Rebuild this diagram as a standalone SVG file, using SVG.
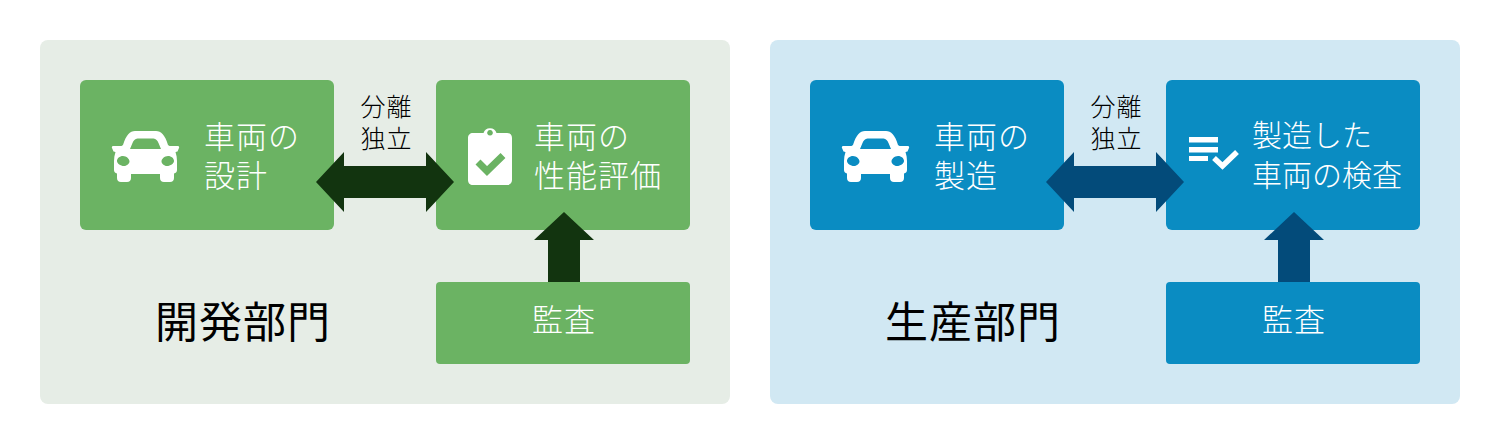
<svg xmlns="http://www.w3.org/2000/svg" width="1500" height="446" viewBox="0 0 1500 446">
<style>
text{font-family:"Noto Sans CJK JP","Noto Sans CJK SC",sans-serif}
.t{font-size:31px;fill:#fff;letter-spacing:1px;font-weight:300}
.u{font-size:30px;fill:#fff;font-weight:300}
.s{font-size:25px;fill:#000;letter-spacing:1px;text-anchor:middle;font-weight:300}
.h{font-size:43px;fill:#000;font-weight:400;letter-spacing:1px}
.g{fill:#6bb363}.b{fill:#0a8cc2}
.dg{fill:#12340f}.db{fill:#034b7a}
.w{fill:#fff}
</style>
<defs>
<path id="car" fill-rule="evenodd" d="M23 0H44C49 0 53 4 56 14L57.500 15H66C67 15 67.500 16 67 17L65.500 20.500L63.500 21C64.500 24 65 27 65 30V39C65 41 64 42 62 42.500V47C62 49.500 60.500 51 58 51H52C49.500 51 48 49.500 48 47V43H19V47C19 49.500 17.500 51 15 51H9C6.500 51 5 49.500 5 47V42.500C3 42 2 41 2 39V30C2 27 2.500 24 3.500 21L1.500 20.500L0 17C-.5 16 0 15 1 15H9.500L11 14C14 4 18 0 23 0ZM25.500 7.500C23 8 21.500 9.500 20.500 12L18 18H49L46.500 12C45.500 9.500 44 8 41.500 7.500ZM11 25C7.500 25 5 27.500 5 30C5 32.500 8.500 35 12 35C15 35 17.500 32.500 17.500 30.500C17.500 28 14.500 25 11 25ZM56 25C52.500 25 49.500 28 49.500 30.500C49.500 32.500 52 35 55 35C58.500 35 62 32.500 62 30C62 27.500 59.500 25 56 25Z"/>
</defs>
<rect width="1500" height="446" fill="#fff"/>
<g id="dept-dev">
<rect x="40" y="40" width="690" height="364" rx="8" fill="#e6ede6"/>
<text class="h" x="155" y="338">開発部門</text>
</g>
<g id="dept-prod">
<rect x="770" y="40" width="690" height="364" rx="8" fill="#d1e8f3"/>
<text class="h" x="885" y="338">生産部門</text>
</g>
<g id="n-design">
<rect class="g" x="80" y="80" width="254" height="150" rx="6"/>
<use href="#car" x="112" y="131" class="w"/>
<text class="t" x="204" y="148">車両の</text>
<text class="t" x="204" y="187">設計</text>
</g>
<g id="n-eval">
<rect class="g" x="436" y="80" width="254" height="150" rx="6"/>
<path class="w" fill-rule="evenodd" d="M473 133H483.500A6.800 6.800 0 0 1 496.500 133H507C510 133 512 135 512 138V180C512 183 510 185 507 185H473C470 185 468 183 468 180V138C468 135 470 133 473 133ZM490 130A2.800 2.800 0 1 0 490.010 130Z"/>
<path fill="none" stroke="#6bb363" stroke-width="7" d="M478 162L487 171L503 155.500"/>
<text class="t" x="534" y="148">車両の</text>
<text class="t" x="534" y="187">性能評価</text>
</g>
<g id="n-audit1">
<rect class="g" x="436" y="282" width="254" height="82" rx="4"/>
<text class="t" x="532" y="331">監査</text>
</g>
<g id="n-make">
<rect class="b" x="810" y="80" width="254" height="150" rx="6"/>
<use href="#car" x="842" y="131" class="w"/>
<text class="t" x="934" y="148">車両の</text>
<text class="t" x="934" y="187">製造</text>
</g>
<g id="n-inspect">
<rect class="b" x="1166" y="80" width="254" height="150" rx="6"/>
<path class="w" d="M1189 137H1218V142.500H1189ZM1189 147H1218V152.500H1189ZM1189 156H1208V161H1189Z"/>
<path fill="none" stroke="#fff" stroke-width="5.500" d="M1214 158L1222.500 166L1237 152"/>
<text class="u" x="1252" y="146">製造した</text>
<text class="u" x="1252" y="186">車両の検査</text>
</g>
<g id="n-audit2">
<rect class="b" x="1166" y="282" width="254" height="82" rx="4"/>
<text class="t" x="1262" y="331">監査</text>
</g>
<g id="labels">
<text class="s" x="386.500" y="116">分離</text>
<text class="s" x="386.500" y="148">独立</text>
<text class="s" x="1116.500" y="116">分離</text>
<text class="s" x="1116.500" y="148">独立</text>
</g>
<g id="connectors">
<path class="dg" d="M316 182L344 152V166H426V152L454 182L426 212V198H344V212Z"/>
<path class="dg" d="M564 212L594 240H580V282H548V240H534Z"/>
<path class="db" d="M1046 182L1074 152V166H1156V152L1184 182L1156 212V198H1074V212Z"/>
<path class="db" d="M1294 212L1324 240H1310V282H1278V240H1264Z"/>
</g>
</svg>
